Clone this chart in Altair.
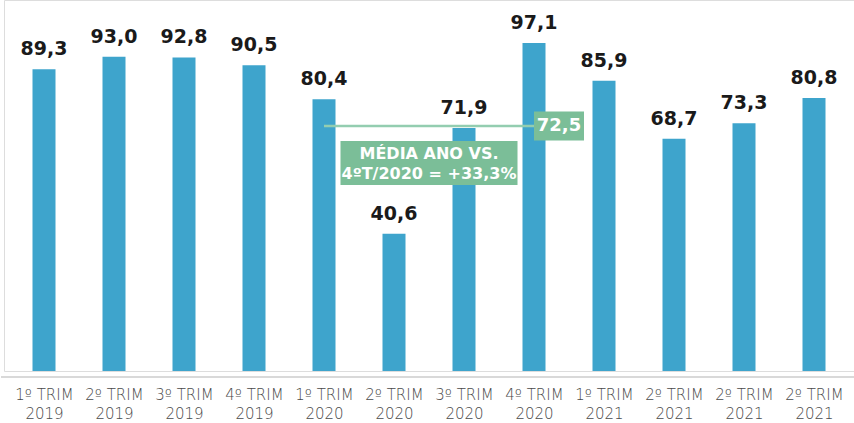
import json
import altair as alt
import pandas as pd

# Quarterly index values
periods = [
    ["1º TRIM", "2019"], ["2º TRIM", "2019"], ["3º TRIM", "2019"], ["4º TRIM", "2019"],
    ["1º TRIM", "2020"], ["2º TRIM", "2020"], ["3º TRIM", "2020"], ["4º TRIM", "2020"],
    ["1º TRIM", "2021"], ["2º TRIM", "2021"], ["2º TRIM", "2021"], ["2º TRIM", "2021"],
]
values = [89.3, 93.0, 92.8, 90.5, 80.4, 40.6, 71.9, 97.1, 85.9, 68.7, 73.3, 80.8]

# 2020 average line
avg_start, avg_end = 4, 7
avg_value = round(sum(values[avg_start:avg_end + 1]) / 4, 1)
avg_text = f"{avg_value:.1f}".replace(".", ",")
note_lines = ["MÉDIA ANO VS.", "4ºT/2020 = +33,3%"]

BLUE = "#3ea4cc"
GREEN = "#7bbe98"
LINE_GREEN = "#93cdb0"
FONT = "DejaVu Sans"

df = pd.DataFrame({
    "idx": list(range(len(values))),
    "value": values,
    "label": [f"{v:.1f}".replace(".", ",") for v in values],
})
avg_df = pd.DataFrame({"x": [avg_start], "x2": [avg_end], "y": [avg_value],
                       "mid": [(avg_start + avg_end) / 2], "text": [avg_text]})
base_df = pd.DataFrame({"base": [0]})

x_scale = alt.Scale(domain=[-0.5, len(values) - 0.5], nice=False, zero=False)
y_scale = alt.Scale(domain=[0, 109.8], nice=False)

x_axis = alt.Axis(
    values=list(range(len(values))),
    labelExpr=f"{json.dumps(periods, ensure_ascii=False)}[datum.value]",
    title=None, grid=False, ticks=False, domain=False,
    labelPadding=16, labelFont=FONT, labelFontSize=15,
    labelColor="#4a4a4a", labelLineHeight=19, labelFontWeight=200,
)


def xq(field):
    return alt.X(field, scale=x_scale, axis=x_axis)


def yq(field):
    return alt.Y(field, scale=y_scale, axis=None)


base = alt.Chart(df)

bars = base.mark_bar(width=23, color=BLUE).encode(x=xq("idx:Q"), y=yq("value:Q"))

# light baseline just under the bars
baseline = alt.Chart(base_df).mark_rule(color="#cccccc", strokeWidth=1.5, yOffset=6).encode(
    x=alt.value(-3), x2=alt.value(850), y=yq("base:Q"),
)

value_labels = base.mark_text(
    font=FONT, fontSize=19, fontWeight="bold", color="#1a1a1a",
    baseline="alphabetic", dy=-14,
).encode(x=xq("idx:Q"), y=yq("value:Q"), text="label:N")

avg_chart = alt.Chart(avg_df)

avg_line = avg_chart.mark_rule(color=LINE_GREEN, strokeWidth=2.5).encode(
    x=xq("x:Q"), x2="x2:Q", y=yq("y:Q"),
)

avg_box = avg_chart.mark_point(
    shape="M0,-0.58H2V0.58H0Z", size=2500, filled=True, opacity=1,
    color=GREEN, strokeWidth=0,
).encode(x=xq("x2:Q"), y=yq("y:Q"))

avg_label = avg_chart.mark_text(
    font=FONT, fontSize=18, fontWeight="bold", color="white",
    align="center", baseline="middle", dx=25,
).encode(x=xq("x2:Q"), y=yq("y:Q"), text="text:N")

note_box = avg_chart.mark_point(
    shape="M-1,0.17H1V0.667H-1Z", size=177 ** 2, filled=True, opacity=1,
    color=GREEN, strokeWidth=0,
).encode(x=xq("mid:Q"), y=yq("y:Q"))

note_text = avg_chart.mark_text(
    font=FONT, fontSize=16, fontWeight="bold", color="white",
    align="center", baseline="middle", dy=28, lineHeight=20,
    text=note_lines,
).encode(x=xq("mid:Q"), y=yq("y:Q"))

chart = alt.layer(
    bars, baseline, value_labels, avg_line, avg_box, avg_label, note_box, note_text
).properties(
    width=850, height=371,
    padding={"left": 4, "top": 0, "right": 0, "bottom": 52},
    autosize=alt.AutoSizeParams(type="none"),
).configure_view(
    strokeWidth=0, stroke="transparent"
).configure_axis(
    domain=False, grid=False, ticks=False
).configure(background="white")

chart.save("out.html", embed_options={"renderer": "svg", "actions": False})
